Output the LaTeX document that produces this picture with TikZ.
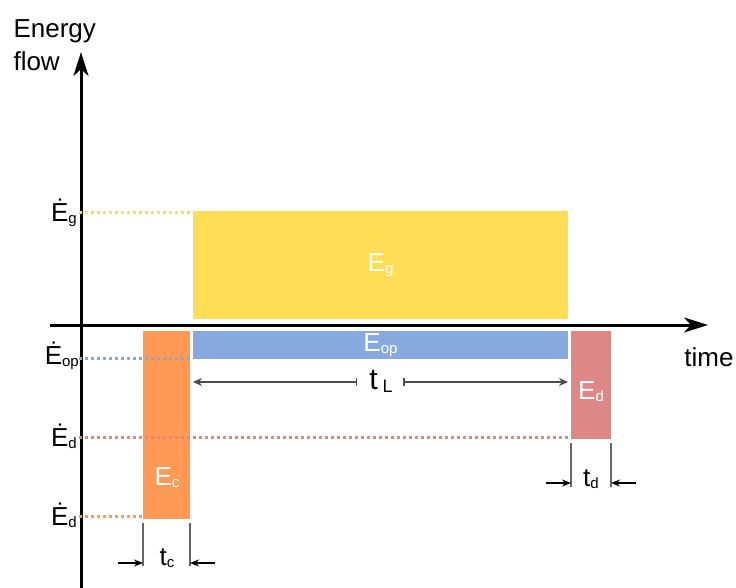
\documentclass[tikz,border=0pt]{standalone}
\usepackage{fontspec}
\setmainfont{Liberation Sans}
\usetikzlibrary{arrows.meta}

\definecolor{genyellow}{HTML}{FFDD55}
\definecolor{opblue}{HTML}{87AADE}
\definecolor{conorange}{HTML}{FF9955}
\definecolor{decred}{HTML}{DE8787}

\newcommand{\lo}[1]{\raisebox{-2pt}{\fontsize{15}{15}\selectfont #1}}

\begin{document}
\begin{tikzpicture}[x=1pt, y=-1pt, every node/.style={font=\fontsize{26}{33}\selectfont}]
      \def\axwidth{3pt}
      \def\dotwidth{3pt}
      \useasboundingbox (0,0) rectangle (736,588);

      %blocks
      \node[fill = genyellow, minimum width=375pt, minimum height=108pt, inner sep=0, text=white, name=Eg ] at (380.5,265) {E\lo{g}};
      \node[fill = opblue   , minimum width=375pt, minimum height=28pt , inner sep=0, text=white, name=Eop] at (380.5,345) {E\lo{op}};
      \node[fill = conorange, minimum width=47pt , minimum height=188pt, inner sep=0,             name=Ec ] at (166.5,425) {};
      \node[fill = decred   , minimum width=40pt , minimum height=108pt, inner sep=0,             name=Ed ] at (591,385)   {};
      \node[text=white, name=EcText] at (167,478) {E\lo{c}};
      \node[text=white, name=EdText] at (591,392) {E\lo{d}};

      %axes
      \draw[line width=\axwidth, -{Stealth[length=24pt, width=15pt, inset=7pt]}] (81,588) -- (81,52);
      \draw[line width=\axwidth, -{Stealth[length=24pt, width=15pt, inset=7pt]}] (50,325) -- (708,325);
      \node[align=left, anchor=north west, name=yname] at (10,16) {Energy\\flow};
      \node[name=xname] at (709,357) {time};

      %levels
      \node[anchor=east, inner sep=0, name=lg ] at (77,213) {Ė\lo{g}};
      \node[anchor=east, inner sep=0, name=lop] at (79,356) {Ė\lo{op}};
      \node[anchor=east, inner sep=0, name=ld ] at (77,436) {Ė\lo{d}};
      \node[anchor=east, inner sep=0, name=lc ] at (77,515) {Ė\lo{d}};
      \draw[genyellow, line width=\dotwidth, dash pattern=on 3pt off 3pt] (79,213) -- (Eg.west |- 0,213);
      \draw[opblue   , line width=\dotwidth, dash pattern=on 3pt off 3pt] (79,358) -- (Eop.west |- 0,358);
      \draw[decred   , line width=\dotwidth, dash pattern=on 3pt off 3pt] (79,437) -- (Ed.west |- 0,437);
      \draw[conorange, line width=\dotwidth, dash pattern=on 3pt off 3pt] (79,516) -- (Ec.west |- 0,516);

      %durations
      \node[font=\fontsize{30}{30}\selectfont, name=tL] at (381,381) {t\,\raisebox{-3pt}{\fontsize{18}{18}\selectfont L}};
      \node[name=tc] at (167,558) {t\lo{c}};
      \node[name=td] at (591,479) {t\lo{d}};
      \coordinate (tLa) at (193,382);
      \coordinate (tLb) at (568,382);
      \coordinate (tLl) at (357,382);
      \coordinate (tLr) at (403,382);
      \draw[black!70, line width=1.5pt, {Bar[width=8pt]}-{Stealth[length=9pt, width=8pt]}] (tLl) -- (tLa);
      \draw[black!70, line width=1.5pt, {Bar[width=8pt]}-{Stealth[length=9pt, width=8pt]}] (tLr) -- (tLb);

      \draw[black!60, line width=1.5pt] (143,523) -- (143,566)  (190,523) -- (190,566);
      \draw[line width=1.3pt, -{Stealth[length=9pt, width=7pt]}] (118,563) -- (143,563);
      \draw[line width=1.3pt, -{Stealth[length=9pt, width=7pt]}] (215,563) -- (190,563);

      \draw[black!60, line width=1.5pt] (571,443) -- (571,487)  (611,443) -- (611,487);
      \draw[line width=1.3pt, -{Stealth[length=9pt, width=7pt]}] (546,483) -- (571,483);
      \draw[line width=1.3pt, -{Stealth[length=9pt, width=7pt]}] (636,483) -- (611,483);
\end{tikzpicture}
\end{document}
